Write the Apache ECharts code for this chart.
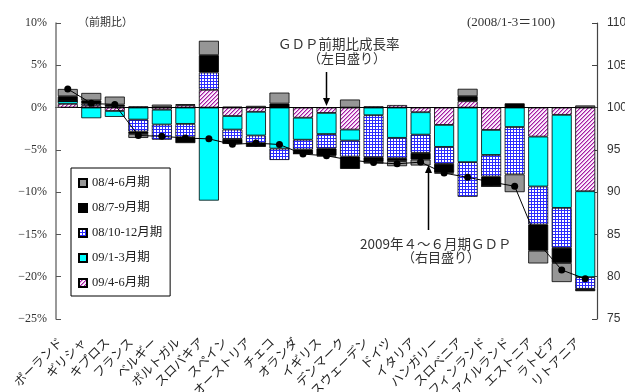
<!DOCTYPE html>
<html><head><meta charset="utf-8">
<script src="https://cdn.jsdelivr.net/npm/echarts@6/dist/echarts.min.js"></script>
<style>html,body{margin:0;padding:0;background:#fff}#c{width:625px;height:392px}</style>
</head><body><div id="c"></div>
<script>
const categories = ['ポーランド','ギリシャ','キプロス','フランス','ベルギー','ポルトガル','スロバキア','スペイン','オーストリア','チェコ','オランダ','イギリス','デンマーク','スウェーデン','ドイツ','イタリア','ハンガリー','スロベニア','フィンランド','アイルランド','エストニア','ラトビア','リトアニア'];
// quarter-on-quarter growth (%)
const q2_2008 = [0.86, 0.88, 0.95, -0.47, 0.3, 0.12, 1.7, 0.1, 0.2, 1.3, 0, -0.1, 0.95, -0.2, -0.6, -0.7, -0.1, 0.87, 0, -2.1, -1.5, -2.25, 0.25];
const q3_2008 = [0.59, 0.4, 0.2, -0.28, 0.05, -0.7, 2.05, -0.6, -0.45, 0.47, -0.5, -0.85, -1.45, -0.55, -0.35, -0.8, -1.05, 0.6, -1.15, 0.5, -3.1, -1.8, -0.28];
const q4_2008 = [0, 0.2, 0.15, -1.42, -1.8, -1.57, 2.05, -1.1, -0.9, -1.35, -1.15, -1.7, -1.9, -4.97, -2.4, -2.15, -2.0, -4.1, -2.55, -5.6, -4.5, -4.72, -1.38];
const q1_2009 = [0.31, -1.26, -0.7, -1.42, -1.75, -1.93, -11.0, -1.6, -2.8, -4.85, -2.6, -2.5, -1.3, -0.9, -3.58, -2.65, -2.6, -6.45, -2.96, -2.3, -5.9, -11.0, -10.16];
const q2_2009 = [0.44, 0.25, -0.4, 0.15, -0.25, 0.28, 2.1, -1.0, -0.5, 0, -1.2, -0.63, -2.6, 0.15, 0.3, -0.55, -2.05, 0.75, -2.64, 0, -3.43, -0.86, -9.89];
// GDP level 2009/4-6 (2008/1-3 = 100)
const gdpLevel = [102.2, 100.5, 100.35, 96.7, 96.6, 96.4, 96.3, 95.65, 95.8, 95.63, 94.5, 94.3, 93.8, 93.5, 93.35, 93.55, 92.25, 91.75, 91.2, 90.7, 84.0, 80.8, 79.75];
const seriesNames = ['08/4-6月期','08/7-9月期','08/10-12月期','09/1-3月期','09/4-6月期'];

function gridPattern(){
  const c=document.createElement('canvas'); c.width=3; c.height=3;
  const g=c.getContext('2d'); g.fillStyle='#fff'; g.fillRect(0,0,3,3);
  g.fillStyle='#2b2bff'; g.fillRect(0,0,3,1); g.fillRect(0,0,1,3);
  return {image:c, repeat:'repeat'};
}
function hatchPattern(){
  const c=document.createElement('canvas'); c.width=4; c.height=4;
  const g=c.getContext('2d'); g.fillStyle='#fbeefb'; g.fillRect(0,0,4,4);
  for(let i=0;i<4;i++){
    g.fillStyle='#a01fa0'; g.fillRect(i,3-i,1,1);
    g.fillStyle='#d98ad9'; g.fillRect((i+1)%4,3-i,1,1);
  }
  return {image:c, repeat:'repeat'};
}
const serif = "'Liberation Serif','Noto Sans CJK JP'";
const cjk = "'Noto Sans CJK JP'";
const border = {borderColor:'#000', borderWidth:0.8};

function barSeries(name, data, color){
  return {name, type:'bar', stack:'g', data, barWidth:20, xAxisIndex:0, yAxisIndex:0,
    itemStyle:Object.assign({color}, border), emphasis:{disabled:true}};
}

const chart = echarts.init(document.getElementById('c'));
chart.setOption({
  animation:false,
  backgroundColor:'#fff',
  grid:{left:56, right:28, top:23, bottom:73, containLabel:false, outerBoundsMode:'none'},
  legend:{
    orient:'vertical', left:71, top:168,
    data:seriesNames,
    backgroundColor:'#fff', borderColor:'#000', borderWidth:1,
    padding:[8,8,6,7], itemGap:11, itemWidth:8, itemHeight:8, icon:'rect',
    textStyle:{fontFamily:serif, fontSize:12.5, color:'#222', lineHeight:14}
  },
  xAxis:[{
    type:'category', data:categories, position:'bottom',
    axisLine:{onZero:true, lineStyle:{color:'#000', width:1}},
    axisTick:{inside:true, length:4, lineStyle:{color:'#000'}},
    axisLabel:{show:false}, splitLine:{show:false}
  },{
    type:'category', data:categories, position:'bottom',
    axisLine:{show:false, onZero:false}, axisTick:{show:false},
    axisLabel:{interval:0, rotate:45, margin:13, padding:[0,11,0,0], fontFamily:cjk, fontSize:12.5, color:'#222'},
    splitLine:{show:false}
  }],
  yAxis:[{
    type:'value', min:-25, max:10, interval:5, position:'left',
    axisLine:{show:true, lineStyle:{color:'#777', width:1.5}},
    axisTick:{show:true, inside:true, length:5, lineStyle:{color:'#555'}},
    axisLabel:{fontFamily:serif, fontSize:12, color:'#333', margin:9,
      formatter:v=> (v<0?'−'+(-v):v)+'%'},
    splitLine:{show:false}
  },{
    type:'value', min:75, max:110, interval:5, position:'right',
    axisLine:{show:true, lineStyle:{color:'#444', width:1.2}},
    axisTick:{show:true, inside:true, length:5, lineStyle:{color:'#444'}},
    axisLabel:{fontFamily:"'Liberation Sans'", fontSize:12, color:'#333', margin:10},
    splitLine:{show:false}
  }],
  series:[
    barSeries(seriesNames[4], q2_2009, hatchPattern()),
    barSeries(seriesNames[3], q1_2009, '#00ffff'),
    barSeries(seriesNames[2], q4_2008, gridPattern()),
    barSeries(seriesNames[1], q3_2008, '#000000'),
    barSeries(seriesNames[0], q2_2008, '#969696'),
    {name:'GDP水準', type:'line', data:gdpLevel, xAxisIndex:0, yAxisIndex:1,
      symbol:'circle', symbolSize:7, itemStyle:{color:'#000'},
      lineStyle:{color:'#000', width:1}, z:5, emphasis:{disabled:true}}
  ],
  graphic:[
    {type:'text', left:78, top:16, style:{text:'（前期比）', font:"11px "+cjk, fill:'#333'}},
    {type:'text', left:467, top:16, style:{text:'(2008/1-3＝100)', font:"13px "+serif, fill:'#333'}},
    {type:'text', left:278, top:37, style:{text:'ＧＤＰ前期比成長率', font:"13.5px "+cjk, fill:'#333'}},
    {type:'text', left:308, top:52, style:{text:'（左目盛り）', font:"13px "+cjk, fill:'#333'}},
    {type:'line', shape:{x1:326.5, y1:72, x2:326.5, y2:100}, style:{stroke:'#000', lineWidth:1.5}},
    {type:'polygon', shape:{points:[[326.5,106],[323,98],[330,98]]}, style:{fill:'#000'}},
    {type:'text', left:360, top:237, style:{text:'2009年４～６月期ＧＤＰ', font:"13.5px "+cjk, fill:'#333'}},
    {type:'text', left:402, top:251, style:{text:'（右目盛り）', font:"13px "+cjk, fill:'#333'}},
    {type:'line', shape:{x1:428.5, y1:230, x2:428.5, y2:172}, style:{stroke:'#000', lineWidth:1.5}},
    {type:'polygon', shape:{points:[[428.5,165],[425,173],[432,173]]}, style:{fill:'#000'}}
  ]
});
</script></body></html>
